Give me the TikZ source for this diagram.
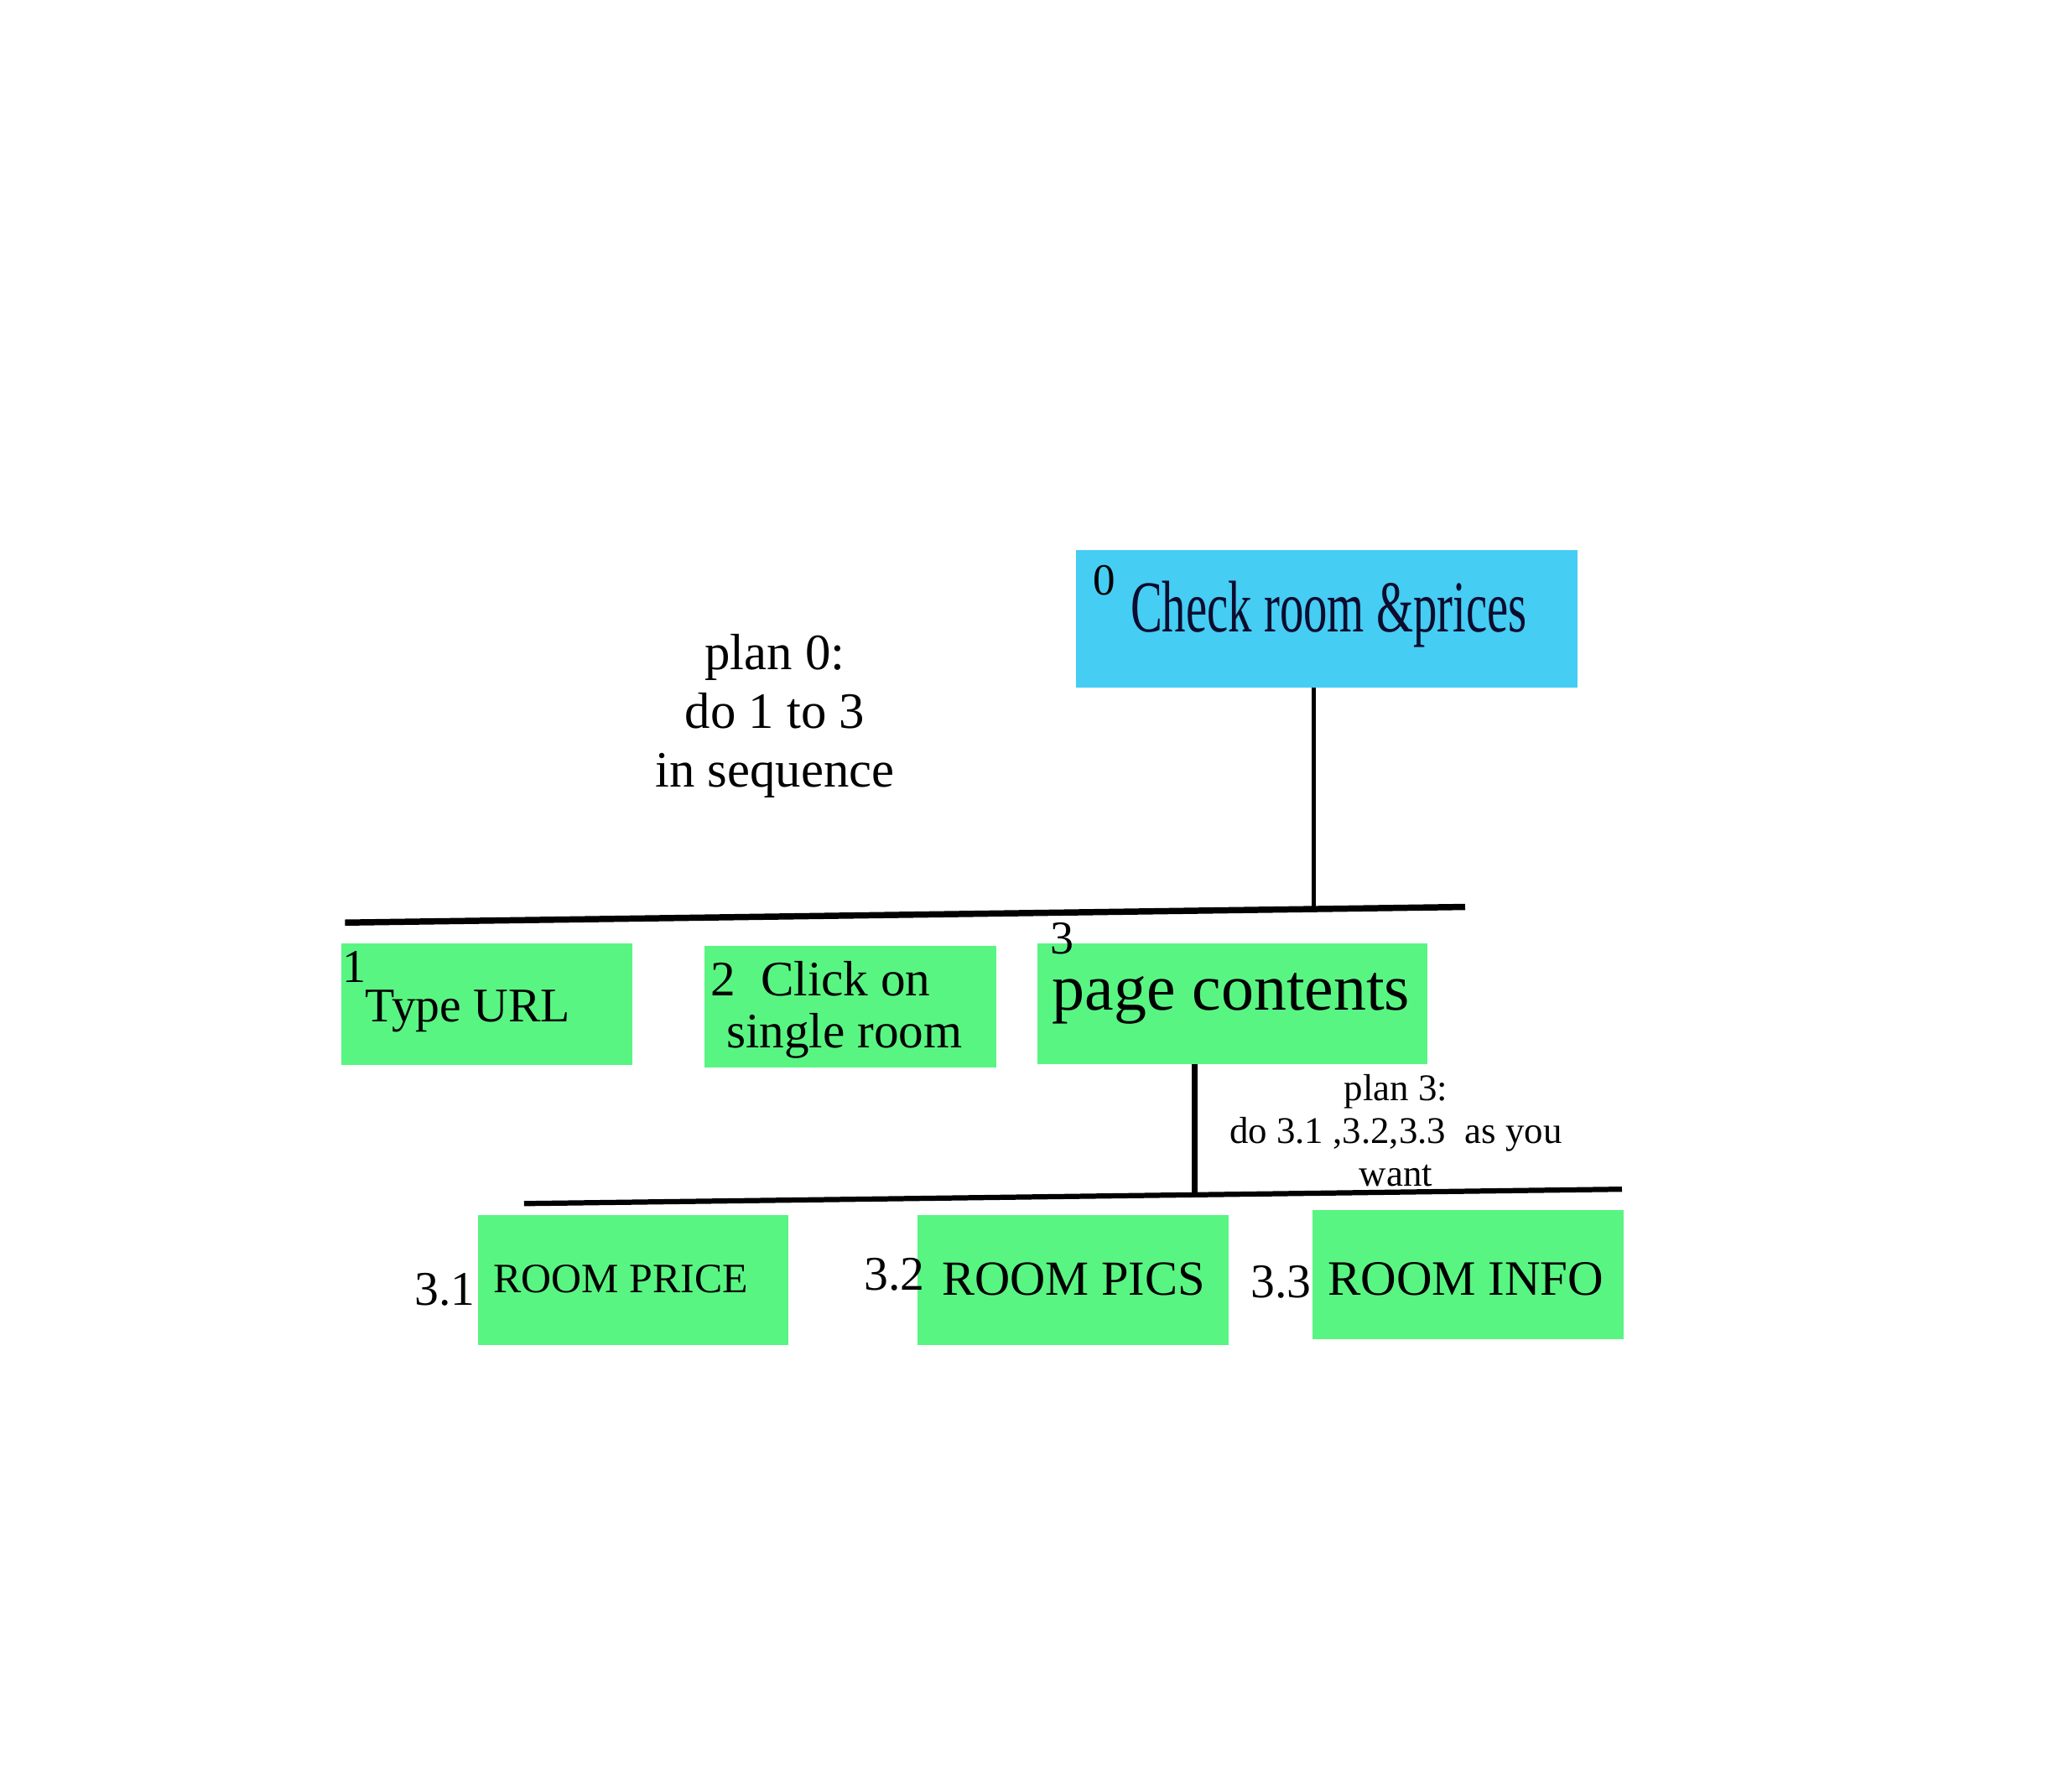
\documentclass[tikz,border=0pt]{standalone}
\usepackage{fontspec}
\setmainfont{Liberation Serif}
\definecolor{boxblue}{RGB}{69,205,243}
\definecolor{boxgreen}{RGB}{89,245,130}
\definecolor{navy}{RGB}{12,12,46}
\newcommand{\fs}[2]{\fontsize{#1pt}{#2pt}\selectfont}
\begin{document}
\begin{tikzpicture}[x=0.5pt,y=-0.5pt,
  gbox/.style={rectangle,fill=boxgreen,draw=none,inner sep=0pt},
  bbox/.style={rectangle,fill=boxblue,draw=none,inner sep=0pt},
  txt/.style={inner sep=0pt,outer sep=0pt,text=black},
  bar/.style={line width=2.4pt,line cap=butt},
  stem/.style={line width=1.6pt}]
\useasboundingbox[fill=white] (0,0) rectangle (1567,1371);
% boxes
\node[bbox,minimum width=192pt,minimum height=52.5pt] (b0) at (1015,473.5) {};
\node[gbox,minimum width=111.5pt,minimum height=46.5pt] (b1) at (372.5,768.5) {};
\node[gbox,minimum width=111.5pt,minimum height=46.5pt] (b2) at (650.5,770.5) {};
\node[gbox,minimum width=149pt,minimum height=46pt] (b3) at (943,768) {};
\node[gbox,minimum width=118.5pt,minimum height=49.5pt] (b31) at (484.5,979.5) {};
\node[gbox,minimum width=119pt,minimum height=49.5pt] (b32) at (821,979.5) {};
\node[gbox,minimum width=119pt,minimum height=49.5pt] (b33) at (1123,975.5) {};
% texts
\node[txt] (n0) at (845,444) {\fs{17}{20}0};
\node[txt,text=navy,anchor=west] (t0) at (865,470) {\fs{28}{32}\scalebox{0.65}[1]{Check room \&prices}};
\node[txt,align=center,font=\fs{19.5}{22.5}] (p0) at (593,548) {plan 0:\\do 1 to 3\\in sequence};
\node[txt] (n1) at (271,740) {\fs{18}{20}1};
\node[txt] (t1) at (358,774) {\fs{18.5}{20}Type URL};
\node[txt] (t2a) at (628,749) {\fs{19}{20}2\ \ Click on};
\node[txt] (t2b) at (646,793) {\fs{19}{20}single room};
\node[txt] (n3) at (813,718) {\fs{18}{20}3};
\node[txt] (t3) at (942,764) {\fs{25}{28}page contents};
\node[txt,align=center,font=\fs{14.4}{16.3}] (p3) at (1068,865) {plan 3:\\do 3.1 ,3.2,3.3\ \ as you\\want};
\node[txt] (n31) at (340.5,987) {\fs{18.5}{20}3.1};
\node[txt] (t31) at (475,979) {\fs{16}{18}ROOM PRICE};
\node[txt] (n32) at (684.5,975) {\fs{18.5}{20}3.2};
\node[txt] (t32) at (821.5,979) {\fs{18.75}{20}ROOM PICS};
\node[txt] (n33) at (980,981) {\fs{18.5}{20}3.3};
\node[txt] (t33) at (1121.5,979) {\fs{18.9}{20}ROOM INFO};
% connectors
\coordinate (l1a) at (264,706);
\coordinate (l1b) at (1121,694);
\coordinate (j0) at (1005,695.5);
\coordinate (l2a) at (401,921);
\coordinate (l2b) at (1241,910);
\coordinate (j3) at (914,913);
\draw[bar] (l1a) -- (l1b);
\draw[stem] (b0.south -| j0) -- (j0);
\draw[bar,line width=2pt] (l2a) -- (l2b);
\draw[bar] (b3.south -| j3) -- (j3);
\end{tikzpicture}
\end{document}
